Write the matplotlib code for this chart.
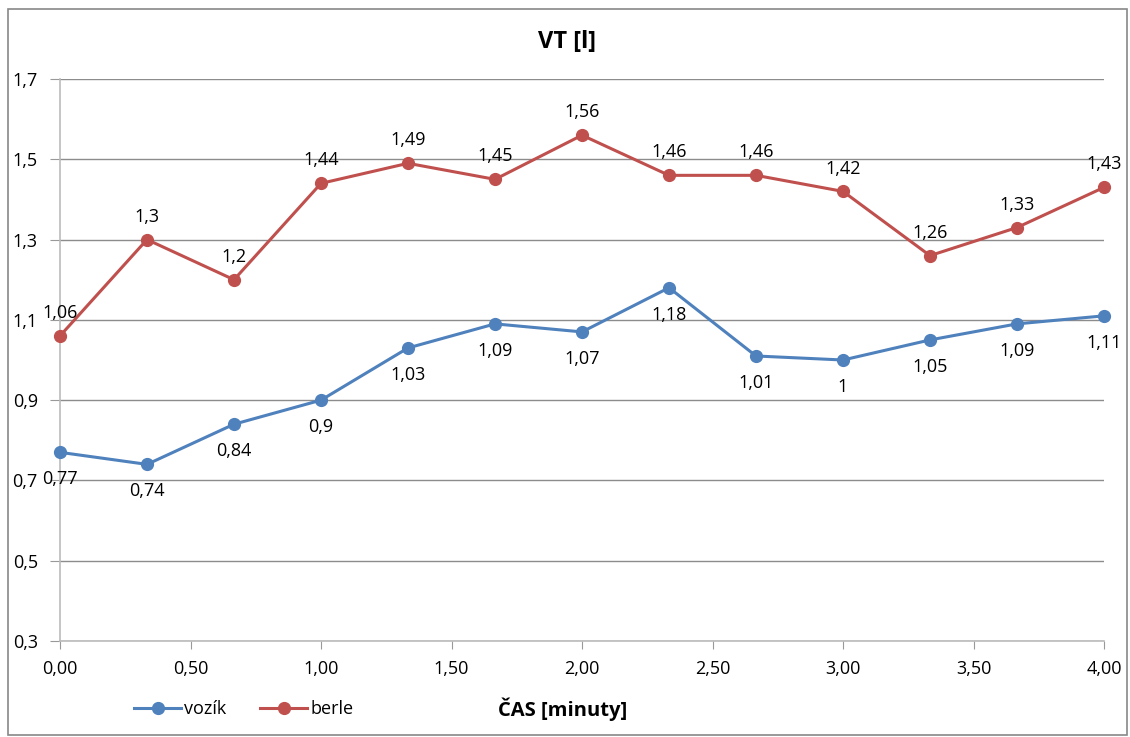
import matplotlib
matplotlib.use("Agg")
import matplotlib.pyplot as plt
from matplotlib.patches import Rectangle
from matplotlib.lines import Line2D

time_min = [0, 1/3, 2/3, 1, 4/3, 5/3, 2, 7/3, 8/3, 3, 10/3, 11/3, 4]
vozik = [0.77, 0.74, 0.84, 0.9, 1.03, 1.09, 1.07, 1.18, 1.01, 1.0, 1.05, 1.09, 1.11]
berle = [1.06, 1.3, 1.2, 1.44, 1.49, 1.45, 1.56, 1.46, 1.46, 1.42, 1.26, 1.33, 1.43]
y_ticks = [0.3, 0.5, 0.7, 0.9, 1.1, 1.3, 1.5, 1.7]
x_ticks = [0, 0.5, 1, 1.5, 2, 2.5, 3, 3.5, 4]

plt.rcParams['font.family'] = ['Open Sans', 'DejaVu Sans']
BLUE = '#4F81BD'
RED = '#C0504D'
FS = 13

fig = plt.figure(figsize=(11.3, 7.37), dpi=100)
fig.patches.append(Rectangle((8/1130, 2/737), 1119/1130, 726/737, transform=fig.transFigure,
                             fill=False, edgecolor='#888888', linewidth=1.2))
ax = fig.add_axes([60/1130, 1-641/737, 1044/1130, 562/737])
ax.set_xlim(0, 4)
ax.set_ylim(0.3, 1.7)

ax.set_yticks(y_ticks)
ax.set_yticklabels([f"{v:.1f}".replace('.', ',') for v in y_ticks], fontsize=FS)
ax.set_xticks(x_ticks)
ax.set_xticklabels([f"{v:.2f}".replace('.', ',') for v in x_ticks], fontsize=FS)
ax.tick_params(axis='y', length=7, color='#999999', pad=9)
ax.tick_params(axis='x', length=6, color='#999999', pad=8)
ax.grid(axis='y', color='#8c8c8c', linewidth=1)
ax.set_axisbelow(True)
for s in ['top', 'right']:
    ax.spines[s].set_visible(False)
ax.spines['left'].set_color('#bbbbbb')
ax.spines['bottom'].set_color('#bbbbbb')
ax.spines['left'].set_linewidth(1.2)
ax.spines['bottom'].set_linewidth(1.2)

ax.plot(time_min, vozik, color=BLUE, linewidth=2.2, marker='o', markersize=8.5, clip_on=False, zorder=3)
ax.plot(time_min, berle, color=RED, linewidth=2.2, marker='o', markersize=8.5, clip_on=False, zorder=3)

def fmt(v):
    s = f"{v:.2f}".rstrip('0').rstrip('.')
    return s.replace('.', ',')

for x, y in zip(time_min, vozik):
    ax.annotate(fmt(y), (x, y), xytext=(0, -13), textcoords='offset points',
                ha='center', va='top', fontsize=FS)
for x, y in zip(time_min, berle):
    ax.annotate(fmt(y), (x, y), xytext=(0, 10), textcoords='offset points',
                ha='center', va='bottom', fontsize=FS)

fig.text(567/1130, 1-42/737, 'VT [l]', ha='center', va='center', fontsize=17, fontweight='bold')
fig.text(563/1130, 1-709/737, 'ČAS [minuty]', ha='center', va='center', fontsize=14.5, fontweight='bold')

handles = [Line2D([], [], color=BLUE, linewidth=2.2, marker='o', markersize=8.5),
           Line2D([], [], color=RED, linewidth=2.2, marker='o', markersize=8.5)]
fig.legend(handles, ['vozík', 'berle'], loc='center left', bbox_to_anchor=(118/1130, 1-709/737),
           ncol=2, frameon=False, fontsize=FS, handlelength=2.6, handletextpad=0.15,
           columnspacing=1.9)

fig.savefig('out.png', dpi=100)
